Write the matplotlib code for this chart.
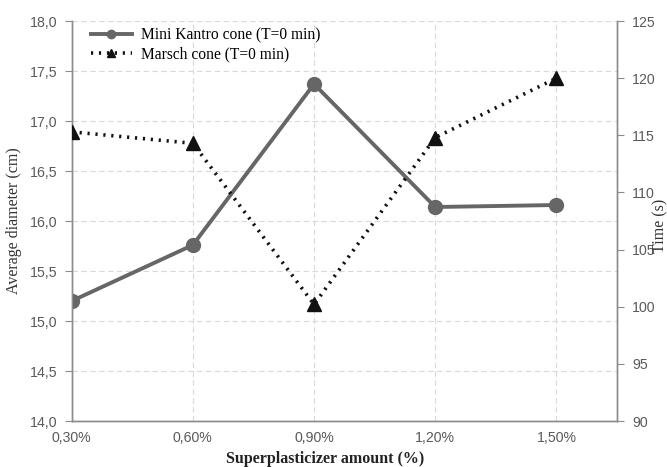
import matplotlib
matplotlib.use("Agg")
import matplotlib.pyplot as plt
import numpy as np

categories = ["0,30%", "0,60%", "0,90%", "1,20%", "1,50%"]
mini_kantro = [15.20, 15.76, 17.37, 16.14, 16.16]
marsch = [115.3, 114.3, 100.2, 114.8, 120.0]
left_ticks = [14.0, 14.5, 15.0, 15.5, 16.0, 16.5, 17.0, 17.5, 18.0]
right_ticks = [90, 95, 100, 105, 110, 115, 120, 125]

serif = ["Liberation Serif", "DejaVu Serif"]
tickfont = ["Liberation Sans Narrow", "Liberation Sans", "DejaVu Sans"]
tick_color = "#595959"
spine_color = "#8c8c8c"

fig = plt.figure(figsize=(6.67, 4.67), dpi=100)
ax = fig.add_axes([0.1075, 0.0985, 0.8175, 0.8565])
ax2 = ax.twinx()

x = np.arange(len(categories))
l1, = ax.plot(x, mini_kantro, color="#666666", lw=2.8, marker="o", ms=10,
              label="Mini Kantro cone (T=0 min)", zorder=3)
l2, = ax2.plot(x, marsch, color="#111111", lw=2.6, ls=(0, (0.6, 1.6)),
               marker="^", ms=10, label="Marsch cone (T=0 min)", zorder=3)

ax.set_xlim(0, 4.5)
ax.set_ylim(14, 18)
ax2.set_ylim(90, 125)
ax.set_xticks(x)
ax.set_xticklabels(categories)
ax.set_yticks(left_ticks)
ax.set_yticklabels([f"{v:.1f}".replace(".", ",") for v in left_ticks])
ax2.set_yticks(right_ticks)
ax2.set_yticklabels([str(v) for v in right_ticks])

ax.grid(True, color="#d9d9d9", ls=(0, (5, 3)), lw=0.8)
ax.set_axisbelow(True)

for a in (ax, ax2):
    a.spines["top"].set_visible(False)
    for s in ("left", "right", "bottom"):
        a.spines[s].set_color(spine_color)
        a.spines[s].set_linewidth(1.0)
    for lab in a.get_yticklabels() + a.get_xticklabels():
        lab.set_family(tickfont)
        lab.set_fontsize(10.2)
        lab.set_color(tick_color)
ax.tick_params(axis="y", direction="out", length=5, color=spine_color, pad=5)
ax.tick_params(axis="x", length=0, pad=7)
ax2.tick_params(axis="y", direction="out", length=5, color=spine_color, pad=6)

ax.set_ylabel("Average diameter (cm)", family=serif, fontsize=11.5, color="#333333", labelpad=6)
fig.text(0.99, 0.516, "Time (s)", rotation=90, ha="center", va="center",
         family=serif, fontsize=11.5, color="#333333")
fig.text(0.487, 0.018, "Superplasticizer amount (%)", ha="center", va="center",
         family=serif, fontsize=11.5, fontweight="bold", color="#222222")

leg = ax.legend(handles=[l1, l2], loc="upper left", bbox_to_anchor=(0.01, 1.02),
                frameon=False, prop={"family": serif, "size": 11.2},
                handlelength=2.6, handletextpad=0.6, labelspacing=0.2,
                markerscale=0.6)

fig.savefig("out.png", dpi=100)
